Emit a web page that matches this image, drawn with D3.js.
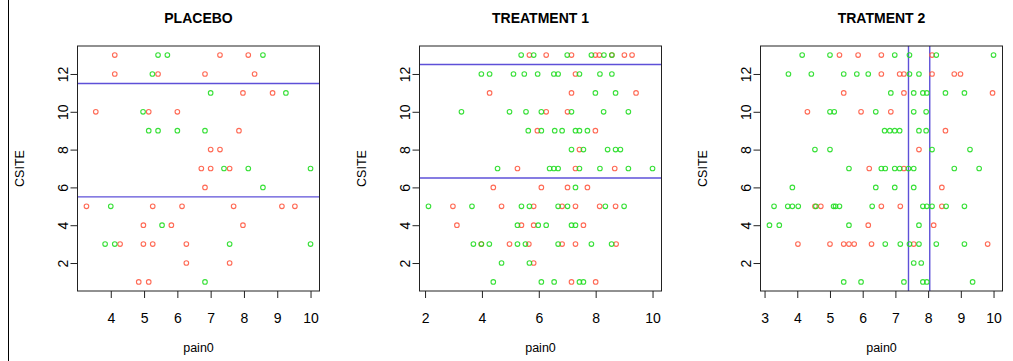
<!DOCTYPE html>
<html><head><meta charset="utf-8">
<script src="https://cdn.jsdelivr.net/npm/d3@7"></script>
<style>
body{margin:0;background:#fff;}
svg text{font-family:"Liberation Sans",Arial,sans-serif;}
</style></head>
<body><svg id="c" width="1013" height="361"></svg>
<script>
// ---- data: [CSITE, pain0] pairs ----
const placeboRed = [[13,4.12],[13,7.28],[13,8.13],[12,4.12],[12,5.42],[12,6.83],[12,8.32],[11,7.97],[11,8.86],
 [10,3.55],[10,5.14],[10,6.0],[9,7.85],[8,7.0],[8,7.28],[7,6.72],[7,7.0],[7,7.57],[6,6.83],
 [5,3.27],[5,5.26],[5,6.14],[5,7.69],[5,9.14],[5,9.53],[4,4.98],[4,5.82],[4,7.97],
 [3,4.28],[3,4.98],[3,5.26],[3,6.27],[2,6.27],[2,7.57],[1,4.84],[1,5.14]];
const placeboGreen = [[13,5.42],[13,5.70],[13,8.57],[12,5.25],[11,7.0],[11,9.26],[10,4.97],
 [9,5.14],[9,5.42],[9,6.0],[9,6.83],[7,7.40],[7,8.13],[7,10.0],[6,8.57],[5,4.0],[4,5.54],
 [3,3.83],[3,4.12],[3,7.57],[3,10.0],[1,6.83]];
const treat1Red = [[13,5.67],[13,6.26],[13,7.15],[13,7.99],[13,8.13],[13,8.57],[13,9.01],[13,9.28],
 [12,7.29],[11,4.27],[11,7.15],[11,9.42],[10,6.26],[10,7.01],[9,5.95],[9,7.99],[8,7.43],
 [7,5.25],[7,7.29],[7,8.67],[6,4.40],[6,6.09],[6,7.01],[6,7.71],
 [5,2.98],[5,4.69],[5,5.82],[5,6.82],[5,7.29],[5,8.14],[5,8.70],
 [4,3.12],[4,5.39],[4,5.82],[4,7.57],[3,3.98],[3,4.97],[3,5.65],[3,6.82],[3,7.29],[3,8.72],
 [2,5.82],[1,7.15],[1,8.0]];
const treat1Green = [[13,5.38],[13,5.82],[13,7.0],[13,7.85],[13,8.29],[13,8.57],
 [12,3.98],[12,4.27],[12,5.11],[12,5.49],[12,5.96],[12,6.53],[12,6.68],[12,7.43],[12,8.15],[12,8.57],
 [11,7.99],[11,8.70],[10,3.28],[10,4.97],[10,5.55],[10,6.09],[10,7.15],[10,8.28],[10,9.15],
 [9,5.63],[9,6.09],[9,6.56],[9,6.82],[9,7.29],[9,7.43],[9,7.71],
 [8,7.15],[8,7.57],[8,8.42],[8,8.70],[8,8.87],
 [7,4.55],[7,6.38],[7,6.53],[7,6.68],[7,7.43],[7,8.15],[7,9.15],[7,10.0],[6,7.29],
 [5,2.12],[5,3.65],[5,5.39],[5,5.67],[5,6.68],[5,7.01],[5,8.34],[5,9.0],
 [4,5.25],[4,5.98],[4,6.26],[4,7.15],[4,7.29],
 [3,3.70],[3,3.98],[3,4.26],[3,5.25],[3,5.53],[3,6.68],[3,7.85],[3,8.56],
 [2,4.69],[2,5.67],[1,4.40],[1,6.09],[1,6.54],[1,7.43],[1,7.57]];
const treat2Red = [[13,5.29],[13,5.86],[13,6.57],[13,8.12],[12,6.57],[12,7.13],[12,7.26],[12,8.12],[12,8.80],[12,8.99],
 [11,5.42],[11,7.26],[11,9.97],[10,4.31],[10,5.95],[10,6.86],[9,8.53],[8,7.72],[7,6.20],[7,7.26],[6,8.42],
 [5,4.54],[5,4.72],[5,6.57],[5,7.15],[5,8.42],[4,6.17],[4,8.17],
 [3,4.02],[3,5.0],[3,5.42],[3,5.58],[3,5.74],[3,6.27],[3,7.56],[3,9.82]];
const treat2Green = [[13,4.15],[13,5.0],[13,6.98],[13,7.43],[13,8.25],[13,10.0],
 [12,3.73],[12,4.43],[12,5.42],[12,5.82],[12,6.17],[12,7.43],[12,7.72],
 [11,6.86],[11,7.56],[11,7.84],[11,7.96],[11,8.53],[11,9.11],
 [10,5.0],[10,5.13],[10,6.40],[10,7.56],[10,7.94],
 [9,6.67],[9,6.83],[9,6.98],[9,7.13],[9,7.72],[9,7.94],
 [8,4.54],[8,5.0],[8,8.12],[8,9.28],
 [7,5.58],[7,6.57],[7,6.69],[7,6.98],[7,7.13],[7,7.40],[7,7.56],[7,8.80],[7,9.56],
 [6,3.85],[6,6.40],[6,6.98],[6,7.56],
 [5,3.29],[5,3.71],[5,3.85],[5,4.03],[5,4.57],[5,5.11],[5,5.17],[5,5.29],[5,6.29],[5,7.84],[5,7.96],[5,8.12],[5,8.55],[5,9.11],
 [4,3.15],[4,3.45],[4,5.58],[4,7.72],
 [3,6.69],[3,7.15],[3,7.43],[3,7.72],[3,8.25],[3,9.11],
 [2,7.56],[2,7.79],[1,5.42],[1,5.95],[1,7.26],[1,7.84],[1,7.96],[1,9.36]];

const titles = ["PLACEBO","TREATMENT 1","TRATMENT 2"];
const xTicks = [[4,5,6,7,8,9,10],[2,4,6,8,10],[3,4,5,6,7,8,9,10]];
const yTicks = [2,4,6,8,10,12];
const hLines = [[5.5,11.5],[6.5,12.5],[]];
const vLines = [[],[],[7.4,8.05]];
const redSets = [placeboRed, treat1Red, treat2Red];
const greenSets = [placeboGreen, treat1Green, treat2Green];

const RED = "#ff5a42", GREEN = "#22dd22", BLUE = "#5e50d8", AX = "#222";
const svg = d3.select("#c");
svg.append("line").attr("x1",8.5).attr("x2",8.5).attr("y1",0).attr("y2",361).attr("stroke","#000").attr("stroke-width",1);

const lefts = [77.5, 419.5, 760.5];
const W = 242, plotTop = 46, plotBottom = 291;

function padded(ext){const d=(ext[1]-ext[0])*0.04;return [ext[0]-d, ext[1]+d];}

titles.forEach((t,i)=>{
  const all = redSets[i].concat(greenSets[i]);
  const x = d3.scaleLinear().domain(padded(d3.extent(all,d=>d[1]))).range([lefts[i], lefts[i]+W]);
  const y = d3.scaleLinear().domain(padded([1,13])).range([plotBottom, plotTop]);
  const g = svg.append("g");
  hLines[i].forEach(v=>g.append("line").attr("x1",lefts[i]).attr("x2",lefts[i]+W)
     .attr("y1",y(v)).attr("y2",y(v)).attr("stroke",BLUE).attr("stroke-width",1.4));
  vLines[i].forEach(v=>g.append("line").attr("y1",plotTop).attr("y2",plotBottom)
     .attr("x1",x(v)).attr("x2",x(v)).attr("stroke",BLUE).attr("stroke-width",1.4));
  const drawPts=(data,col)=>g.selectAll(null).data(data).enter().append("circle")
     .attr("cx",d=>x(d[1])).attr("cy",d=>y(d[0])).attr("r",2.3)
     .attr("fill","none").attr("stroke",col).attr("stroke-width",1.1).attr("stroke-opacity",0.9);
  drawPts(redSets[i],RED);
  drawPts(greenSets[i],GREEN);
  g.append("rect").attr("x",lefts[i]).attr("y",plotTop).attr("width",W).attr("height",plotBottom-plotTop)
    .attr("fill","none").attr("stroke",AX).attr("stroke-width",1);
  const xa = g.append("g").attr("transform",`translate(0,${plotBottom})`)
     .call(d3.axisBottom(x).tickValues(xTicks[i]).tickSize(7).tickSizeOuter(0).tickFormat(d3.format("d")));
  xa.select(".domain").remove();
  xa.selectAll("line").attr("stroke",AX);
  xa.selectAll("text").attr("font-size",14).attr("fill","#000").attr("y",22).attr("dy","0.71em");
  const ya = g.append("g").attr("transform",`translate(${lefts[i]},0)`)
     .call(d3.axisLeft(y).tickValues(yTicks).tickSize(7).tickSizeOuter(0));
  ya.select(".domain").remove();
  ya.selectAll("line").attr("stroke",AX);
  ya.selectAll("text").attr("font-size",14).attr("fill","#000")
     .attr("text-anchor","middle").attr("x",0).attr("dy",0)
     .attr("transform","translate(-10,0) rotate(-90)");
  const cx = lefts[i]+W/2;
  svg.append("text").attr("x",cx).attr("y",23).attr("text-anchor","middle")
     .attr("font-size",14).attr("font-weight","bold").text(t);
  svg.append("text").attr("x",cx).attr("y",352).attr("text-anchor","middle")
     .attr("font-size",12.5).text("pain0");
  svg.append("text").attr("transform",`translate(${lefts[i]-54},${(plotTop+plotBottom)/2}) rotate(-90)`)
     .attr("text-anchor","middle").attr("font-size",12.5).text("CSITE");
});
</script></body></html>
